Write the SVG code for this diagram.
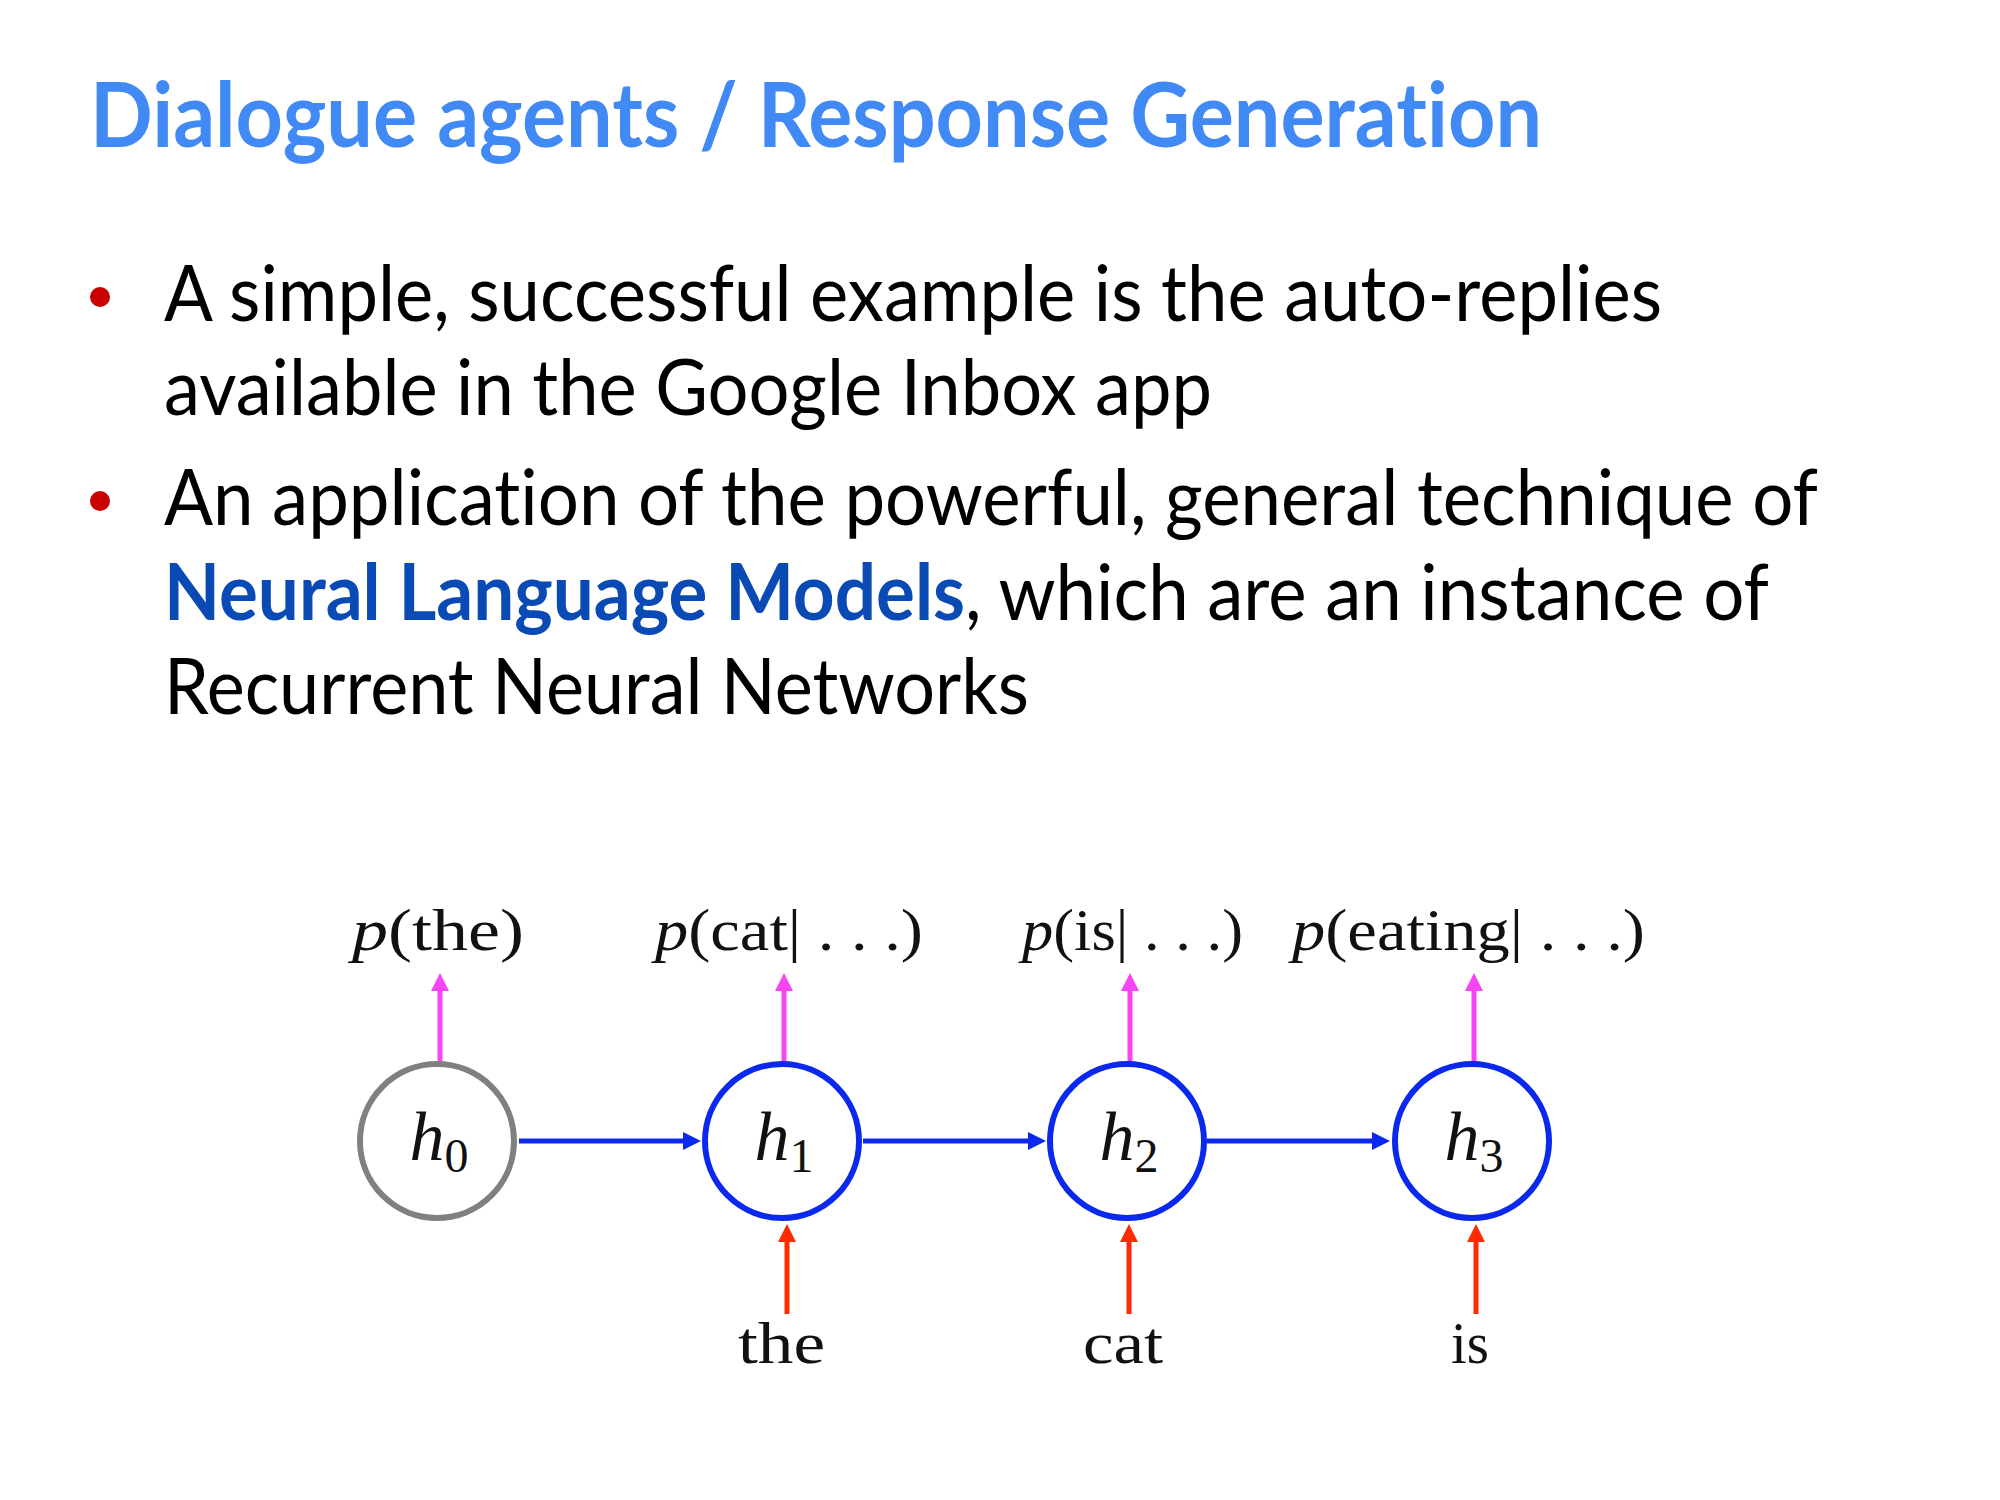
<svg xmlns="http://www.w3.org/2000/svg" width="2000" height="1500" viewBox="0 0 2000 1500">
<style>
text{font-variant-ligatures:none;font-feature-settings:"liga" 0,"clig" 0}
.title{font-family:Lato,"Open Sans","Liberation Sans",sans-serif;font-weight:bold;font-size:89px;fill:#418AF5}
.body{font-family:Lato,"Open Sans","Liberation Sans",sans-serif;font-size:78px;fill:#000}
.bold{font-weight:bold;fill:#0A4AB5}
.bullet{fill:#C80000}
.math{font-family:"Liberation Serif","DejaVu Serif",serif;font-size:60px;fill:#111}
.it{font-style:italic}
.node{fill:#fff;stroke-width:6}
.hlab{font-family:"Liberation Serif","DejaVu Serif",serif;font-size:70px;fill:#111;text-anchor:middle}
.out{stroke:#F546F5;stroke-width:5;fill:none}
.in{stroke:#FF2A00;stroke-width:5;fill:none}
.rec{stroke:#0A28EE;stroke-width:5;fill:none}
</style>
<defs>
<marker id="amag" viewBox="0 0 18 18" refX="1" refY="9" markerWidth="18" markerHeight="18" markerUnits="userSpaceOnUse" orient="auto"><path d="M0,0 L18,9 L0,18 z" fill="#F546F5"/></marker>
<marker id="ared" viewBox="0 0 18 18" refX="1" refY="9" markerWidth="18" markerHeight="18" markerUnits="userSpaceOnUse" orient="auto"><path d="M0,0 L18,9 L0,18 z" fill="#FF2A00"/></marker>
<marker id="ablue" viewBox="0 0 18 18" refX="1" refY="9" markerWidth="18" markerHeight="18" markerUnits="userSpaceOnUse" orient="auto"><path d="M0,0 L18,9 L0,18 z" fill="#0A28EE"/></marker>
</defs>
<rect width="2000" height="1500" fill="#fff"/>

<g id="title">
<text class="title" x="90" y="147" textLength="1452" lengthAdjust="spacingAndGlyphs">Dialogue agents / Response Generation</text>
</g>

<g id="bullets">
<circle class="bullet" cx="100" cy="297" r="10"/>
<circle class="bullet" cx="100" cy="501" r="10"/>
<text class="body" x="164" y="321" textLength="1498" lengthAdjust="spacingAndGlyphs">A simple, successful example is the auto-replies</text>
<text class="body" x="164" y="415" textLength="1048" lengthAdjust="spacingAndGlyphs">available in the Google Inbox app</text>
<text class="body" x="164" y="525" textLength="1654" lengthAdjust="spacingAndGlyphs">An application of the powerful, general technique of</text>
<text class="body bold" x="164" y="620" textLength="801" lengthAdjust="spacingAndGlyphs">Neural Language Models</text>
<text class="body" x="965" y="620" textLength="804" lengthAdjust="spacingAndGlyphs">, which are an instance of</text>
<text class="body" x="164" y="714" textLength="865" lengthAdjust="spacingAndGlyphs">Recurrent Neural Networks</text>
</g>

<g id="connectors">
<line class="rec" x1="519" y1="1141" x2="684" y2="1141" marker-end="url(#ablue)"/>
<line class="rec" x1="863" y1="1141" x2="1029" y2="1141" marker-end="url(#ablue)"/>
<line class="rec" x1="1207" y1="1141" x2="1373" y2="1141" marker-end="url(#ablue)"/>
<line class="out" x1="440" y1="1064" x2="440" y2="990" marker-end="url(#amag)"/>
<line class="out" x1="784" y1="1064" x2="784" y2="990" marker-end="url(#amag)"/>
<line class="out" x1="1130" y1="1064" x2="1130" y2="990" marker-end="url(#amag)"/>
<line class="out" x1="1474" y1="1064" x2="1474" y2="990" marker-end="url(#amag)"/>
<line class="in" x1="787" y1="1314" x2="787" y2="1241" marker-end="url(#ared)"/>
<line class="in" x1="1129" y1="1314" x2="1129" y2="1241" marker-end="url(#ared)"/>
<line class="in" x1="1476" y1="1314" x2="1476" y2="1241" marker-end="url(#ared)"/>
</g>

<g id="h0">
<circle class="node" cx="437" cy="1141" r="77" stroke="#808080"/>
<text class="hlab" x="439" y="1160"><tspan class="it">h</tspan><tspan font-size="48" dy="12">0</tspan></text>
</g>
<g id="h1">
<circle class="node" cx="782" cy="1141" r="77" stroke="#0A28EE"/>
<text class="hlab" x="784" y="1160"><tspan class="it">h</tspan><tspan font-size="48" dy="12">1</tspan></text>
</g>
<g id="h2">
<circle class="node" cx="1127" cy="1141" r="77" stroke="#0A28EE"/>
<text class="hlab" x="1129" y="1160"><tspan class="it">h</tspan><tspan font-size="48" dy="12">2</tspan></text>
</g>
<g id="h3">
<circle class="node" cx="1472" cy="1141" r="77" stroke="#0A28EE"/>
<text class="hlab" x="1474" y="1160"><tspan class="it">h</tspan><tspan font-size="48" dy="12">3</tspan></text>
</g>

<g id="labels-out">
<text class="math" x="352" y="950" textLength="172" lengthAdjust="spacingAndGlyphs"><tspan class="it">p</tspan>(the)</text>
<text class="math" x="655" y="950" textLength="268" lengthAdjust="spacingAndGlyphs"><tspan class="it">p</tspan>(cat| . . .)</text>
<text class="math" x="1022" y="950" textLength="221" lengthAdjust="spacingAndGlyphs"><tspan class="it">p</tspan>(is| . . .)</text>
<text class="math" x="1292" y="950" textLength="353" lengthAdjust="spacingAndGlyphs"><tspan class="it">p</tspan>(eating| . . .)</text>
</g>

<g id="labels-in">
<text class="math" x="738" y="1363" textLength="87" lengthAdjust="spacingAndGlyphs">the</text>
<text class="math" x="1083" y="1363" textLength="80" lengthAdjust="spacingAndGlyphs">cat</text>
<text class="math" x="1451" y="1363" textLength="38" lengthAdjust="spacingAndGlyphs">is</text>
</g>
</svg>
